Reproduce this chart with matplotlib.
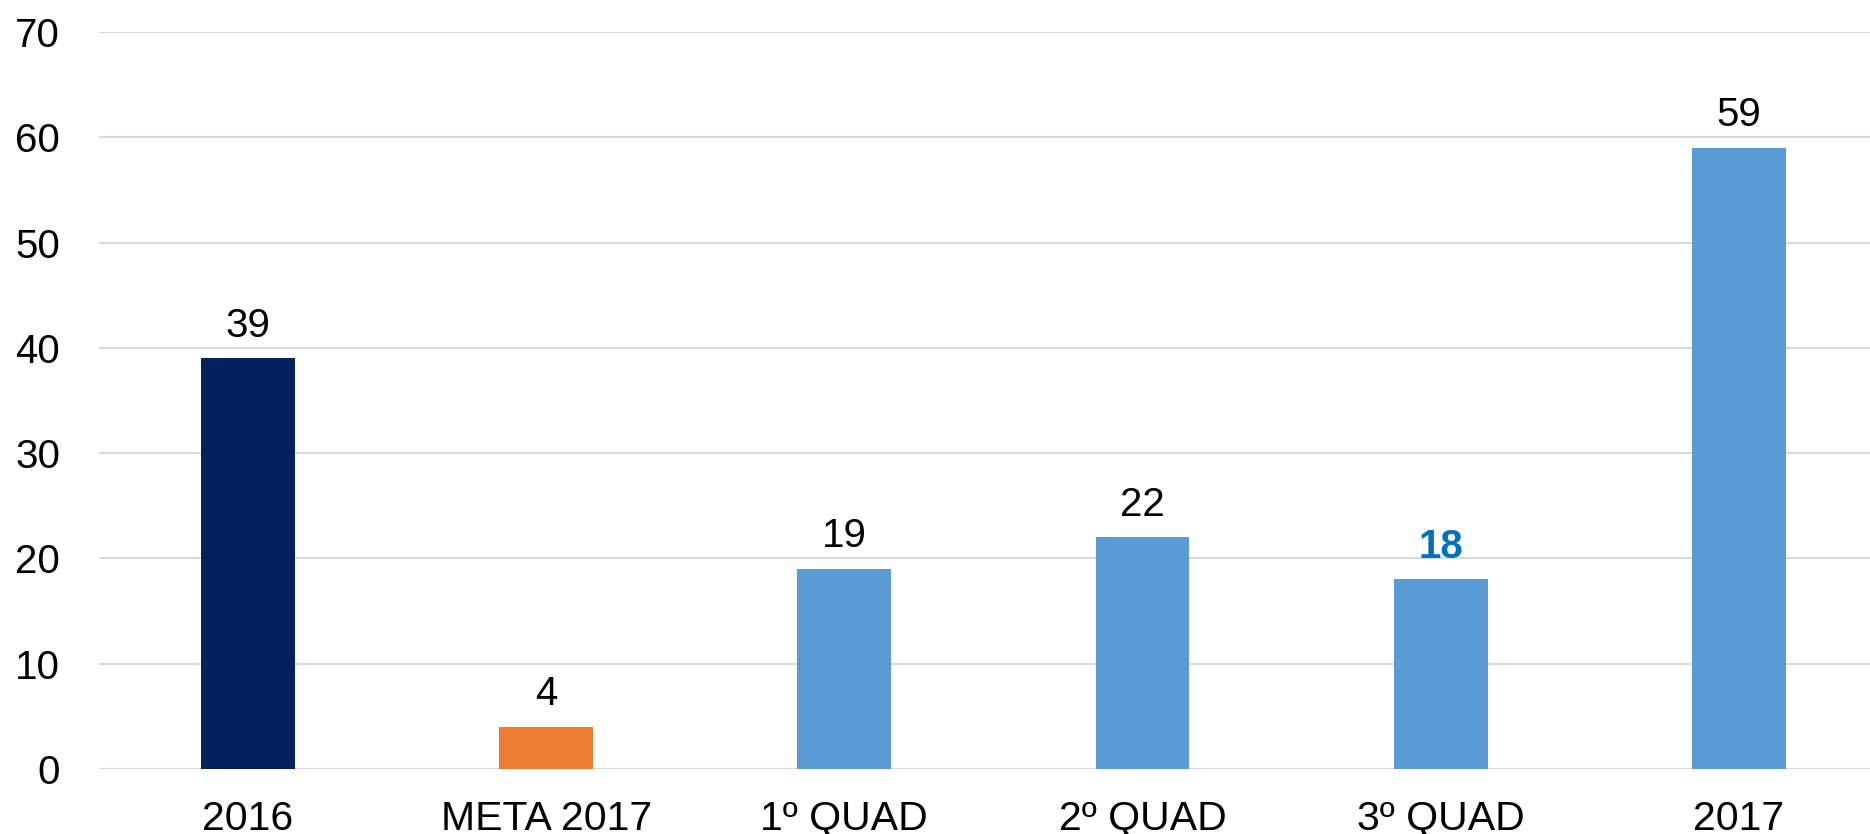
import matplotlib
matplotlib.use("Agg")
import matplotlib.pyplot as plt
from matplotlib import font_manager

categories = ["2016", "META 2017", "1º QUAD", "2º QUAD", "3º QUAD", "2017"]
values = [39, 4, 19, 22, 18, 59]
colors = ["#03215d", "#ed7d31", "#5b9bd5", "#5b9bd5", "#5b9bd5", "#5b9bd5"]

names = {f.name for f in font_manager.fontManager.ttflist}
narrow = "Liberation Sans Narrow" if "Liberation Sans Narrow" in names else "Liberation Sans"
plt.rcParams["font.family"] = ["Liberation Sans", "DejaVu Sans"]

fig = plt.figure(figsize=(18.7, 8.34), dpi=100)
ax = fig.add_axes([0.0529, 0.078, 0.9567, 0.8837])
x = range(len(categories))
ax.bar(x, values, width=0.315, color=colors, zorder=3)

for i, v in enumerate(values):
    if categories[i] == "3º QUAD":
        ax.text(i, v + 1.3, str(v), ha="center", va="bottom", fontsize=29,
                color="#0070c0", fontweight="bold")
    else:
        ax.text(i, v + 1.3, str(v), ha="center", va="bottom", fontsize=29, color="black")

ax.set_xlim(-0.5, 5.5)
ax.set_ylim(0, 70)
ax.set_yticks(range(0, 71, 10))
ax.yaxis.grid(True, color="#d9d9d9", lw=1.5, zorder=0)
ax.set_axisbelow(True)
for s in ax.spines.values():
    s.set_visible(False)
ax.tick_params(axis="y", length=0, labelsize=29, pad=28)
ax.tick_params(axis="x", length=0, pad=22)
ax.set_xticks(list(x))
ax.set_xticklabels(categories, fontsize=29.5, family=[narrow, "DejaVu Sans"])

fig.savefig("out.png", dpi=100)
